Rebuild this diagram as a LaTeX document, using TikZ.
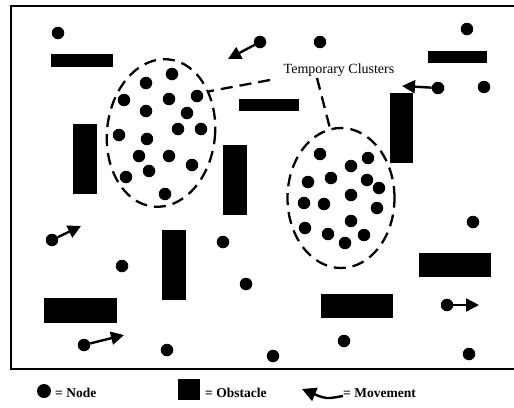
\documentclass[tikz,border=0pt]{standalone}
\usepackage{fontspec}
\setmainfont{Liberation Serif}
\usetikzlibrary{shapes.geometric,arrows.meta}
\begin{document}
\begin{tikzpicture}[x=1pt,y=-1pt,
 dot/.style={circle,fill=black,inner sep=0pt,minimum size=12.5pt},
 obst/.style={fill=black},
 mv/.style={line width=2.4pt,-{Triangle[length=13pt,width=13pt]}},
 clus/.style={ellipse,draw,line width=2.3pt,dash pattern=on 12pt off 7pt,inner sep=0pt},
 conn/.style={line width=2.3pt,dash pattern=on 12pt off 7pt},
 lbl/.style={font=\fontsize{14}{16}\selectfont,inner sep=0pt},
 leg/.style={font=\fontsize{13.5}{15}\selectfont\bfseries,inner sep=0pt,anchor=west}]
\useasboundingbox (0,0) rectangle (514,407);
% frame
\draw[line width=1.5pt] (514,6) -- (11,6) -- (11,369) -- (514,369);
% obstacles
\fill[obst] (51,54) rectangle (113,67);
\fill[obst] (73,124) rectangle (97,194);
\fill[obst] (223,145) rectangle (247,215);
\fill[obst] (239,99) rectangle (299,111);
\fill[obst] (428,51) rectangle (487,63);
\fill[obst] (390,93) rectangle (413,163);
\fill[obst] (162,230) rectangle (186,300);
\fill[obst] (44,298) rectangle (117,323);
\fill[obst] (419,253) rectangle (491,277);
\fill[obst] (321,294) rectangle (393,318);
% clusters
\node[clus,minimum width=108pt,minimum height=148pt,rotate=-6] (c1) at (161,133) {};
\node[clus,minimum width=107pt,minimum height=140pt] (c2) at (341,198) {};
\foreach \x/\y [count=\i] in {172/74,146/83,124/100,169/99,197/96,146/111,187/113,178/129,201/129,119/135,147/139,139/156,169/156,192/165,149/171,126/177,165/194}
  \node[dot] (a\i) at (\x,\y) {};
\foreach \x/\y [count=\i] in {320/154,368/158,351/166,308/182,331/178,367/180,379/188,351/195,304/203,324/204,377/208,351/221,305/228,328/234,364/235,345/243}
  \node[dot] (b\i) at (\x,\y) {};
% label and connectors
\node[lbl,anchor=base] (lab) at (339,73) {Temporary Clusters};
\coordinate (s1) at (270,80);
\coordinate (s2) at (317,78);
\draw[conn] (s1) -- (c1.47);
\draw[conn] (s2) -- (c2.99);
% isolated nodes
\node[dot] (n1) at (58,33) {};
\node[dot] (n2) at (260,42) {};
\node[dot] (n3) at (320,42) {};
\node[dot] (n4) at (467,29) {};
\node[dot] (n5) at (438,88) {};
\node[dot] (n6) at (484,87) {};
\node[dot] (n7) at (52,240) {};
\node[dot] (n8) at (223,242) {};
\node[dot] (n9) at (122,266) {};
\node[dot] (n10) at (246,284) {};
\node[dot] (n11) at (84,345) {};
\node[dot] (n12) at (167,350) {};
\node[dot] (n13) at (473,222) {};
\node[dot] (n14) at (447,305) {};
\node[dot] (n15) at (344,341) {};
\node[dot] (n16) at (273,356) {};
\node[dot] (n17) at (469,354) {};
% movements
\coordinate (t2) at (228,59);
\coordinate (t5) at (402,86);
\coordinate (t7) at (81,226);
\coordinate (t11) at (124,335);
\coordinate (t14) at (479,305);
\draw[mv] (n2) -- (t2);
\draw[mv] (n5) -- (t5);
\draw[mv] (n7) -- (t7);
\draw[mv] (n11) -- (t11);
\draw[mv] (n14) -- (t14);
% legend
\node[dot,minimum size=14pt] (ld) at (44,391) {};
\node[leg] (ln) at (55,393) {= Node};
\fill[obst] (178,379) rectangle (200,400);
\node[leg] (lo) at (205,393) {= Obstacle};
\coordinate (lt) at (343,396);
\coordinate (lh) at (302,389);
\draw[line width=2.4pt,-{Triangle[length=14pt,width=14pt]}] (lt) .. controls (326,399) .. (lh);
\node[leg] (lm) at (343,393) {= Movement};
\end{tikzpicture}
\end{document}
